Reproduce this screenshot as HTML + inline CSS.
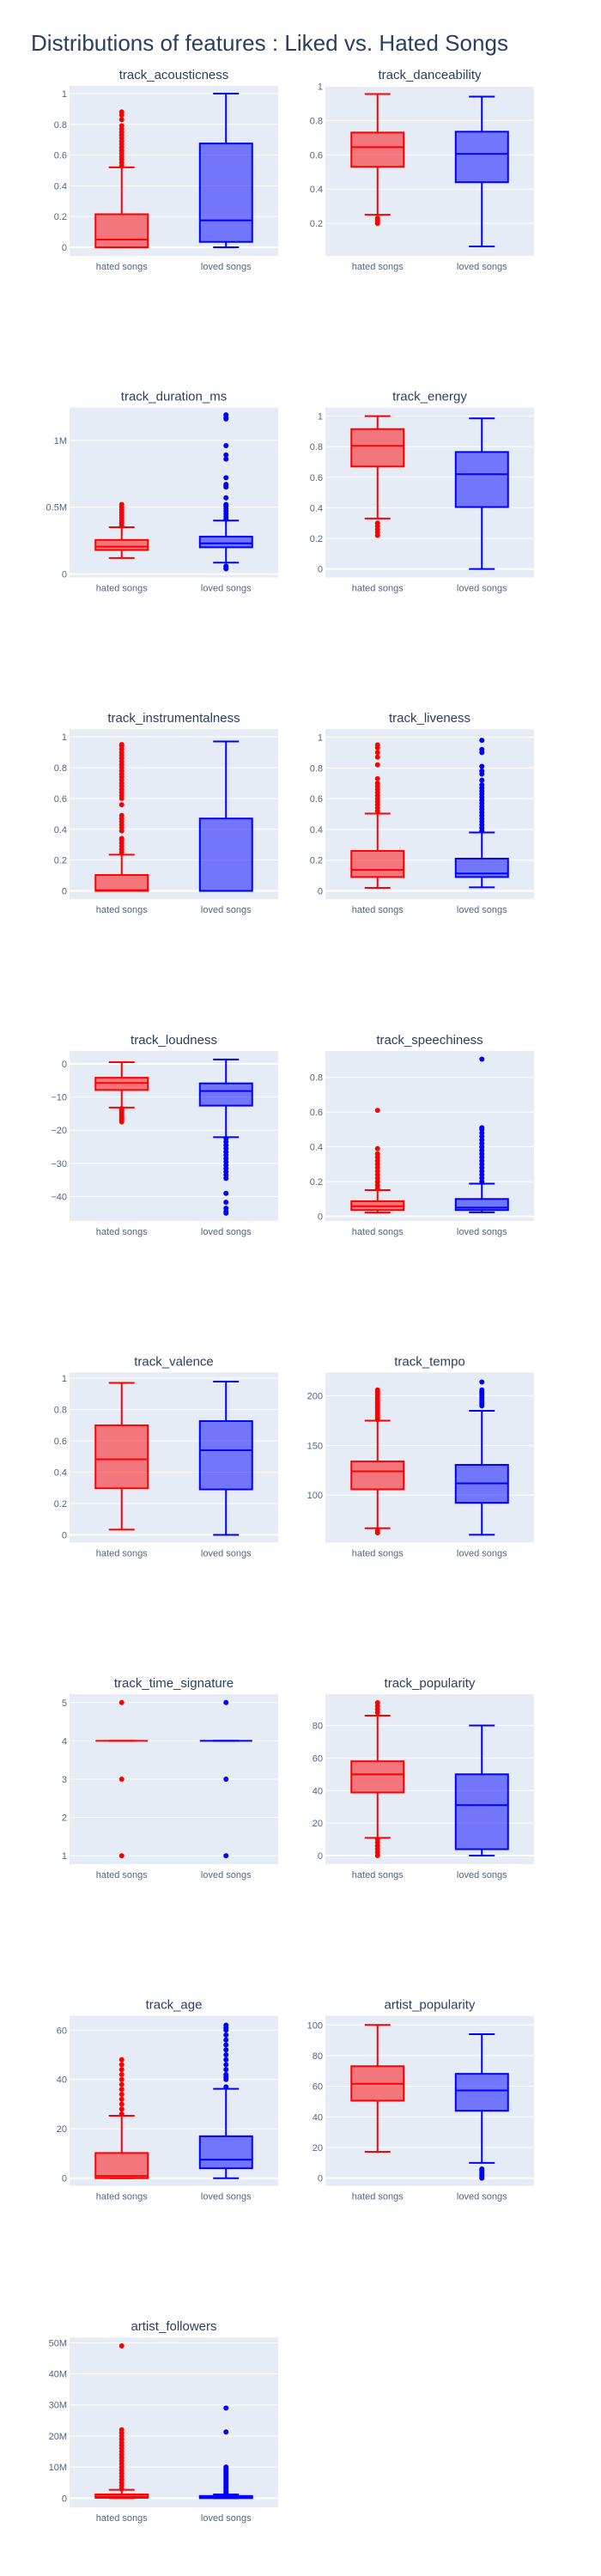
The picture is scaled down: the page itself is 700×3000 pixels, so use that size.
<!DOCTYPE html>
<html><head><meta charset="utf-8">
<style>
html,body{margin:0;padding:0;background:#fff;}
svg{display:block;font-family:"Liberation Sans",Arial,sans-serif;}
</style></head>
<body>
<svg id="chart" width="700" height="3000" viewBox="0 0 700 3000" xmlns="http://www.w3.org/2000/svg">
<rect x="0" y="0" width="700" height="3000" fill="#fff"/>
<text x="36" y="59" font-size="26" fill="#2a3f5f" textLength="556" lengthAdjust="spacingAndGlyphs">Distributions of features : Liked vs. Hated Songs</text>
</svg>
<script>
const titles = ["track_acousticness","track_danceability","track_duration_ms","track_energy","track_instrumentalness","track_liveness","track_loudness","track_speechiness","track_valence","track_tempo","track_time_signature","track_popularity","track_age","artist_popularity","artist_followers"];
const categories = ["hated songs","loved songs"];
const yMin = [-0.056,0.01,-0.026,-0.056,-0.054,-0.054,-47.3,-0.026,-0.049,52.2,0.78,-5.3,-3.1,-5,-3];
const yMax = [1.05,1.0025,1.245,1.056,1.05,1.052,3.9,0.953,1.036,223.6,5.22,99.3,65.8,106,51.7];
const tickVals = [[0,0.2,0.4,0.6,0.8,1],[0.2,0.4,0.6,0.8,1],[0,0.5,1],[0,0.2,0.4,0.6,0.8,1],[0,0.2,0.4,0.6,0.8,1],[0,0.2,0.4,0.6,0.8,1],[-40,-30,-20,-10,0],[0,0.2,0.4,0.6,0.8],[0,0.2,0.4,0.6,0.8,1],[100,150,200],[1,2,3,4,5],[0,20,40,60,80],[0,20,40,60],[0,20,40,60,80,100],[0,10,20,30,40,50]];
const tickLabels = [["0","0.2","0.4","0.6","0.8","1"],["0.2","0.4","0.6","0.8","1"],["0","0.5M","1M"],["0","0.2","0.4","0.6","0.8","1"],["0","0.2","0.4","0.6","0.8","1"],["0","0.2","0.4","0.6","0.8","1"],["−40","−30","−20","−10","0"],["0","0.2","0.4","0.6","0.8"],["0","0.2","0.4","0.6","0.8","1"],["100","150","200"],["1","2","3","4","5"],["0","20","40","60","80"],["0","20","40","60"],["0","20","40","60","80","100"],["0","10M","20M","30M","40M","50M"]];
// hated songs stats
const hatedLow = [0,0.25,0.12,0.33,0,0.02,-13.2,0.022,0.033,66.6,4,10.9,0,17.2,0];
const hatedQ1 = [0,0.53,0.18,0.67,0,0.09,-7.9,0.036,0.297,105.8,4,38.8,0,50.6,0.1];
const hatedMed = [0.05,0.645,0.205,0.805,0.005,0.136,-5.8,0.058,0.482,124,4,50,0.9,61.6,0.5];
const hatedQ3 = [0.215,0.73,0.255,0.915,0.103,0.26,-4.2,0.087,0.699,134,4,58,10.2,73.1,1.2];
const hatedHigh = [0.52,0.955,0.35,1,0.235,0.503,0.5,0.151,0.97,175,4,86.1,25.3,100,2.7];
const hatedOut = [
 [0.53,0.55,0.57,0.59,0.61,0.63,0.65,0.67,0.69,0.71,0.73,0.75,0.77,0.79,0.83,0.86,0.88],
 [0.2,0.21,0.22,0.23],
 [0.36,0.38,0.4,0.42,0.44,0.46,0.48,0.5,0.52],
 [0.22,0.24,0.26,0.28,0.3],
 [0.25,0.27,0.29,0.31,0.33,0.34,0.39,0.41,0.43,0.45,0.47,0.49,0.56,0.6,0.62,0.64,0.66,0.68,0.7,0.72,0.74,0.76,0.78,0.8,0.82,0.84,0.86,0.88,0.9,0.92,0.94,0.95],
 [0.52,0.54,0.56,0.58,0.6,0.62,0.64,0.66,0.68,0.7,0.73,0.82,0.87,0.9,0.93,0.95],
 [-13.5,-14,-14.5,-15,-15.5,-16,-16.5,-17,-17.5],
 [0.16,0.18,0.2,0.22,0.24,0.26,0.28,0.3,0.32,0.34,0.36,0.39,0.61],
 [],
 [176,178,180,182,184,186,188,190,192,194,196,198,200,202,204,206,62,64],
 [5,3,1],
 [0,2,4,6,8,10,88,90,92,94],
 [26,28,30,32,34,36,38,40,42,44,46,48],
 [],
 [3,4,5,6,7,8,9,10,11,12,13,14,15,16,17,18,19,20,21,22,49]
];
// loved songs stats
const lovedLow = [0,0.065,0.085,0,0,0.023,-22.1,0.023,0,60,4,0,0,10,0];
const lovedQ1 = [0.035,0.44,0.2,0.405,0,0.09,-12.6,0.036,0.29,92.2,4,3.9,4,44,0];
const lovedMed = [0.175,0.605,0.23,0.62,0,0.113,-8.2,0.05,0.54,111.8,4,31,7.5,57.3,0.2];
const lovedQ3 = [0.675,0.735,0.28,0.765,0.47,0.21,-5.9,0.1,0.726,130.5,4,50,17,68.1,0.7];
const lovedHigh = [1,0.94,0.4,0.985,0.97,0.38,1.3,0.188,0.978,185,4,80,36.2,94,1.2];
const lovedOut = [
 [],
 [],
 [0.04,0.05,0.06,0.41,0.43,0.45,0.47,0.49,0.51,0.52,0.57,0.65,0.66,0.67,0.72,0.86,0.89,0.96,1.16,1.17,1.19],
 [],
 [],
 [0.39,0.41,0.43,0.45,0.47,0.49,0.51,0.53,0.55,0.57,0.59,0.61,0.63,0.65,0.67,0.69,0.72,0.76,0.78,0.81,0.9,0.92,0.98],
 [-22.5,-23.5,-24.5,-25.5,-26.5,-27.5,-28.5,-29.5,-30.5,-31.5,-32.5,-33.5,-34.5,-39,-41.7,-43.5,-44.5,-45],
 [0.2,0.22,0.24,0.26,0.28,0.3,0.32,0.34,0.36,0.38,0.4,0.42,0.44,0.46,0.48,0.5,0.51,0.905],
 [],
 [190,192,194,196,198,200,202,204,206,214],
 [5,3,1],
 [],
 [37,40,41,42,44,46,48,50,52,54,56,58,60,61,62],
 [0,1,2,3,4,5,6],
 [1.5,2,2.5,3,3.5,4,4.5,5,5.5,6,6.5,7,7.5,8,8.5,9,9.5,10,21.3,29]
];
const NS="http://www.w3.org/2000/svg";
const svg=document.getElementById('chart');
function mk(tag,attrs,parent){const e=document.createElementNS(NS,tag);for(const k in attrs)e.setAttribute(k,attrs[k]);(parent||svg).appendChild(e);return e;}
const colLeft=[81,379], plotW=243, plotH=198, rowTop0=100, rowPitch=374.6;
const colors=[{line:"#ff0000",fill:"rgba(255,0,0,0.5)"},{line:"#0000ff",fill:"rgba(0,0,255,0.5)"}];
titles.forEach((t,i)=>{
  const col=i%2,row=Math.floor(i/2);
  const x0=colLeft[col], y0=rowTop0+row*rowPitch;
  const g=mk('g',{});
  
  
  const yS=v=>y0+plotH-(v-yMin[i])/(yMax[i]-yMin[i])*plotH;
  const xS=c=>x0+plotW/4+c*plotW/2;
  const bg=mk('rect',{x:x0,y:y0,width:plotW,height:plotH,fill:"#e5ecf6"},g);
  
  
  tickVals[i].forEach((v,k)=>{
    const y=yS(v);
    const gl=mk('line',{x1:x0,x2:x0+plotW,y1:y,y2:y,stroke:"#fff","stroke-width":v===0?2:1},g);
    
    
    const tl=mk('text',{x:x0-3,y:y+4,"font-size":11,fill:"#506784","text-anchor":"end"},g);
    tl.textContent=tickLabels[i][k];
    
    
  });
  const st=mk('text',{x:x0+plotW/2,y:y0-8,"font-size":15,fill:"#2a3f5f","text-anchor":"middle"},g);
  st.textContent=t;
  
  
  categories.forEach((c,ci)=>{
    const xl=mk('text',{x:xS(ci),y:y0+plotH+16,"font-size":11,fill:"#506784","text-anchor":"middle"},g);
    xl.textContent=c;
    
    
    const s=ci===0?[hatedLow[i],hatedQ1[i],hatedMed[i],hatedQ3[i],hatedHigh[i],hatedOut[i]]:[lovedLow[i],lovedQ1[i],lovedMed[i],lovedQ3[i],lovedHigh[i],lovedOut[i]];
    const cx=xS(ci), bw=61, cw=30, cl=colors[ci];
    const bx=mk('g',{},g);
    
    
    s[5].forEach(v=>{
      const p=mk('circle',{cx:cx,cy:yS(v),r:3,fill:cl.line},bx);
      
      
    });
    const ln={stroke:cl.line,"stroke-width":2,fill:"none"};
    mk('line',Object.assign({x1:cx,x2:cx,y1:yS(s[0]),y2:yS(s[1])},ln),bx);
    mk('line',Object.assign({x1:cx,x2:cx,y1:yS(s[3]),y2:yS(s[4])},ln),bx);
    mk('line',Object.assign({x1:cx-cw/2,x2:cx+cw/2,y1:yS(s[0]),y2:yS(s[0])},ln),bx);
    mk('line',Object.assign({x1:cx-cw/2,x2:cx+cw/2,y1:yS(s[4]),y2:yS(s[4])},ln),bx);
    mk('rect',{x:cx-bw/2,y:yS(s[3]),width:bw,height:Math.max(0,yS(s[1])-yS(s[3])),fill:cl.fill,stroke:cl.line,"stroke-width":2},bx);
    mk('line',Object.assign({x1:cx-bw/2,x2:cx+bw/2,y1:yS(s[2]),y2:yS(s[2])},ln),bx);
  });
});
</script>
</body></html>
